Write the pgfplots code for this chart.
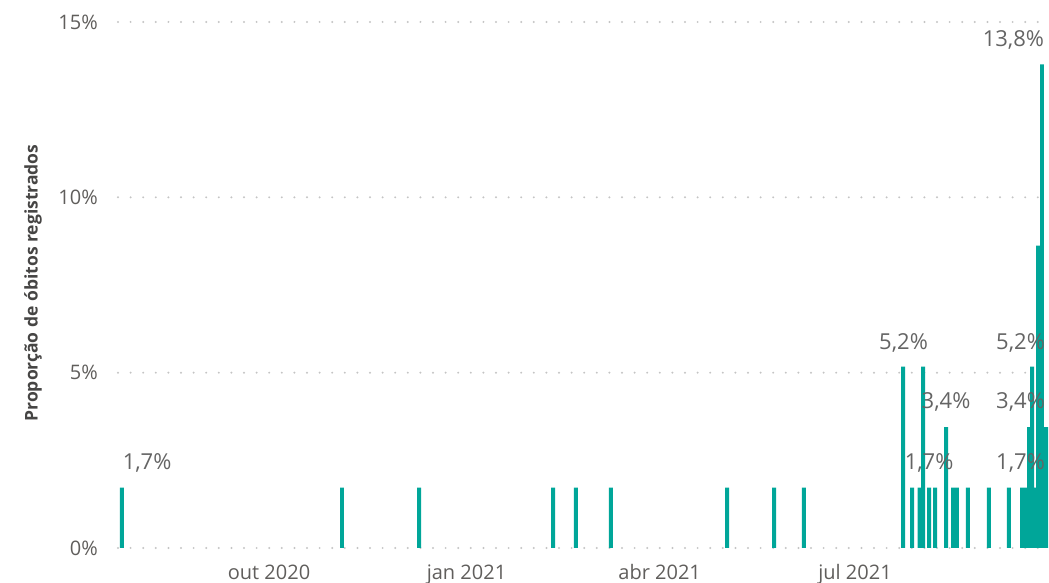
\documentclass[border=0pt]{standalone}
\usepackage{fontspec}
\setmainfont{Open Sans}
\usepackage{pgfplots}
\pgfplotsset{compat=1.18}
\definecolor{barc}{RGB}{0,166,153}
\definecolor{tickc}{RGB}{96,94,92}
\definecolor{gridc}{RGB}{196,196,196}
\definecolor{lblc}{RGB}{100,100,100}
\definecolor{titc}{RGB}{37,36,35}
\begin{document}
\begin{tikzpicture}[x=1pt,y=1pt]
\path[use as bounding box] (0,0) rectangle (1049,583);
\begin{axis}[
  at={(118pt,35pt)}, anchor=south west,
  scale only axis, width=930pt, height=526pt,
  xmin=203.65, xmax=636.9, ymin=0, ymax=15,
  clip=false,
  axis line style={draw=none},
  tick style={draw=none},
  major tick length=0pt,
  ytick={0,5,10,15}, yticklabels={0\%,5\%,10\%,15\%},
  xtick={274,366,456,547},
  xticklabels={out 2020, jan 2021, abr 2021, jul 2021},
  ymajorgrids,
  grid style={gridc, line width=2.2pt, line cap=round, dash pattern=on 0pt off 12.6pt},
  ticklabel style={font=\fontsize{20}{24}\selectfont, text=tickc},
  xticklabel style={anchor=base, yshift=-32pt},
  yticklabel style={anchor=east, inner sep=0pt, xshift=-20pt},
]
\addplot[ybar, bar width=1.86, fill=barc, draw=none] coordinates {
(205.5,1.724) (308.0,1.724) (343.9,1.724) (406.3,1.724) (417.0,1.724)
(433.3,1.724) (487.4,1.724) (509.3,1.724) (523.2,1.724)
(569.4,5.172) (573.6,1.724) (577.1,1.724) (578.7,5.172) (581.5,1.724)
(584.3,1.724) (589.4,3.448) (592.7,1.724) (594.5,1.724) (599.6,1.724)
(609.4,1.724) (618.7,1.724) (624.8,1.724) (626.7,1.724) (628.1,3.448)
(629.5,5.172) (631.1,1.724) (632.3,8.621) (634.1,13.793) (636.0,3.448)
};
\begin{scope}[every node/.style={font=\fontsize{22}{26}\selectfont, text=lblc, inner sep=0pt, anchor=center}]
\node at (axis cs:217.2,2.42) {1,7\%};
\node at (axis cs:569.6,5.85) {5,2\%};
\node at (axis cs:581.5,2.42) {1,7\%};
\node at (axis cs:589.4,4.16) {3,4\%};
\node at (axis cs:624.1,2.42) {1,7\%};
\node at (axis cs:624.1,4.16) {3,4\%};
\node at (axis cs:624.1,5.85) {5,2\%};
\node at (axis cs:620.8,14.49) {13,8\%};
\end{scope}
\end{axis}
\node[rotate=90, font=\fontsize{17.5}{20}\selectfont\bfseries, text=titc!85!white] at (33,300) {Proporção de óbitos registrados};
\end{tikzpicture}
\end{document}
